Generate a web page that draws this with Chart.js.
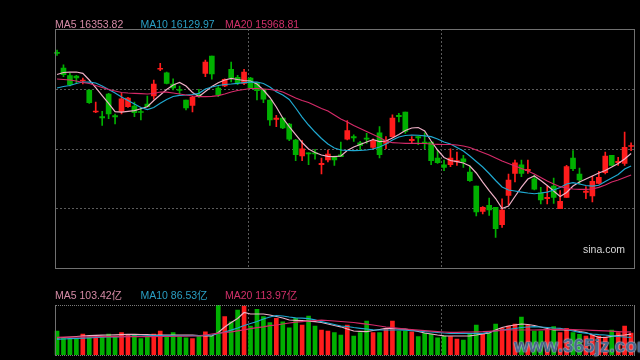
<!DOCTYPE html>
<html><head><meta charset="utf-8">
<script src="https://cdn.jsdelivr.net/npm/chart.js@4/dist/chart.umd.min.js"></script>
<style>
html,body{margin:0;padding:0;background:#000;width:640px;height:360px;overflow:hidden;font-family:"Liberation Sans","Noto Sans CJK SC",Arial,sans-serif;}
#wrap{position:relative;width:640px;height:360px;background:#000;}
canvas{position:absolute;left:0;}
.lg{position:absolute;font-size:10.5px;white-space:nowrap;line-height:12px;}
.box{position:absolute;box-sizing:border-box;pointer-events:none;}
</style></head><body>
<div id="wrap">
<canvas id="price" width="640" height="280" style="top:0;width:640px;height:280px"></canvas>
<canvas id="vol" width="640" height="80" style="top:280px;width:640px;height:80px"></canvas>
<div class="box" style="left:55px;top:29px;width:580px;height:240px;border:1px solid #707070"></div>
<div class="box" style="left:55px;top:305px;width:580px;height:51px;border-left:1px solid #707070;border-right:1px solid #707070;border-top:1px dotted #7a7a7a;border-bottom:1px dotted #7a7a7a"></div>
<div id="legTop"></div>
<div id="legVol"></div>
<div class="lg" style="left:583px;top:243px;color:#d8d8d8;font-size:10.5px">sina.com</div>
<div class="lg" style="left:514px;top:336px;font-size:19px;line-height:20px;font-weight:bold;color:rgba(55,85,125,0.85);text-shadow:0 0 2px #b8cce0,0 0 1px #d0e0f0">www.365jz.com</div>
</div>
<script>
// ---- data ----
const open = [18152,17873,17736,17730,17641,17481,17089,17009,17410,17027,
 17102,17184,17196,17098,17232,17374,17850,17789,17588,17490,
 17303,17209,17405,17778,18086,17517,17552,17850,17707,17600,
 17695,17611,17494,17303,16956,16983,16876,16591,16306,16365,
 16365,16151,16235,16294,16329,16604,16650,16543,16627,16461,
 16721,16532,16650,17031,17089,16579,16650,16555,16555,16271,
 16151,16151,16199,16258,16021,15772,15322,15429,15393,15083,
 15607,15998,16151,16045,15902,15653,15546,15772,15368,15571,
 16271,15986,15657,15594,15820,16009,16319,16187,16176,16475];
const close = [18134,17753,17575,17695,17659,17255,17107,16983,17054,17000,
 17326,17339,17077,17081,17184,17588,17867,17600,17517,17472,
 17161,17351,17387,17979,17766,17397,17672,17695,17611,17801,
 17517,17469,17316,16947,16983,16805,16604,16329,16436,16342,
 16342,16176,16342,16235,16294,16757,16627,16497,16604,16579,
 16329,16579,16983,17006,16746,16604,16627,16532,16223,16187,
 16105,16271,16223,16199,15867,15309,15393,15345,15012,15345,
 15879,16187,15998,16070,15714,15523,15571,15571,15500,16116,
 16080,15879,15683,15856,15927,16306,16141,16212,16461,16493];
const high = [18193,17931,17778,17743,17695,17481,17267,17102,17422,17054,
 17422,17351,17267,17161,17374,17659,17956,17801,17682,17552,
 17303,17374,17494,18015,18086,17540,17682,17979,17743,17850,
 17707,17611,17494,17303,17031,16995,16888,16604,16579,16365,
 16426,16271,16413,16306,16555,16935,16685,16568,16710,16614,
 16828,16650,17041,17066,17089,16650,16662,16721,16555,16413,
 16235,16436,16377,16319,16128,15772,15404,15559,15393,15546,
 15986,16235,16235,16235,15963,15749,15772,15915,15689,16141,
 16401,16093,15760,15950,16034,16377,16319,16283,16733,16543];
const low = [18095,17718,17552,17600,17588,17244,17077,16853,16970,16876,
 17054,17173,17006,16947,17184,17316,17825,17588,17481,17410,
 17125,17089,17351,17718,17672,17362,17540,17623,17575,17575,
 17504,17303,17255,16853,16828,16792,16579,16223,16223,16151,
 16248,15986,16199,16141,16294,16591,16568,16413,16532,16436,
 16271,16436,16639,16911,16710,16532,16507,16436,16151,16176,
 16045,16116,16141,16105,15856,15238,15274,15251,14859,15037,
 15439,15843,15938,15998,15701,15452,15452,15464,15368,15571,
 16045,15808,15546,15487,15808,15986,16141,16141,16141,16401];
const ma5 = [17757,17793,17801,17801,17778,17659,17522,17380,17244,17095,
 17089,17102,17113,17148,17184,17294,17392,17490,17570,17615,
 17552,17437,17365,17454,17543,17611,17659,17689,17668,17650,
 17641,17588,17481,17348,17178,16983,16831,16689,16547,16431,
 16369,16324,16301,16294,16306,16404,16466,16511,16555,16600,
 16564,16573,16627,16689,16760,16805,16814,16751,16573,16413,
 16280,16226,16205,16182,16128,16004,15843,15692,15550,15372,
 15416,15585,15754,15897,15950,15870,15781,15683,15585,15657,
 15772,15843,15897,15950,16004,16048,16110,16173,16253,16351];
const ma10 = [17517,17543,17561,17597,17623,17623,17606,17552,17490,17428,
 17356,17294,17232,17170,17134,17170,17244,17312,17365,17387,
 17392,17401,17422,17499,17534,17561,17579,17588,17600,17611,
 17623,17623,17597,17534,17451,17392,17312,17161,17000,16858,
 16733,16618,16520,16449,16413,16404,16401,16404,16413,16431,
 16466,16520,16591,16644,16671,16680,16676,16666,16650,16609,
 16555,16520,16458,16395,16306,16208,16110,15995,15870,15754,
 15701,15683,15665,15648,15635,15648,15665,15701,15746,15808,
 15831,15808,15781,15772,15786,15852,15915,15977,16075,16130];
const ma20 = [17677,17668,17659,17641,17615,17597,17561,17526,17490,17463,
 17437,17428,17422,17415,17410,17419,17445,17445,17428,17410,
 17392,17374,17365,17365,17369,17380,17410,17445,17472,17490,
 17508,17508,17499,17490,17476,17445,17392,17339,17294,17259,
 17205,17152,17107,17036,16965,16911,16849,16796,16742,16689,
 16636,16573,16543,16538,16532,16532,16532,16529,16520,16515,
 16511,16511,16502,16484,16458,16413,16369,16324,16271,16217,
 16173,16128,16084,16039,15986,15924,15861,15808,15760,15737,
 15719,15714,15714,15719,15749,15790,15843,15879,15924,15969];
const volume = [118.8,87.6,82.7,82.7,104.0,90.6,87.6,90.6,104.0,90.6,
 110.4,99.0,97.5,80.7,87.6,104.0,118.8,94.1,110.4,90.6,
 85.6,80.7,94.1,115.3,94.1,247.5,189.6,164.8,222.8,242.6,
 143.6,226.2,189.6,159.9,181.7,164.8,135.1,181.7,148.5,193.1,
 143.6,123.8,118.8,110.4,99.0,148.5,94.1,110.4,168.3,110.4,
 110.4,132.2,168.3,118.8,118.8,115.3,90.6,107.4,104.0,85.6,
 94.1,90.6,79.2,74.3,104.0,148.5,107.4,107.4,153.5,132.2,
 143.6,153.5,188.1,148.5,118.8,118.8,123.8,140.1,110.4,132.2,
 110.4,102.5,94.1,99.0,94.1,89.1,123.8,110.4,143.6,108.9];
const volMa5 = [84.2,86.6,89.1,91.6,94.1,95.5,97.5,98.0,99.0,100.0,
 101.0,102.0,102.5,101.5,100.5,99.0,99.0,99.0,99.0,99.0,
 99.0,98.0,96.5,95.0,94.1,111.4,138.6,160.9,180.7,210.4,
 203.0,203.0,203.0,198.0,190.6,183.2,173.3,171.8,169.8,167.3,
 165.3,160.9,153.5,146.0,139.6,128.7,118.8,116.8,115.3,121.3,
 126.2,131.7,131.2,128.7,127.7,123.8,116.3,108.9,104.0,99.0,
 95.0,94.1,94.1,94.1,95.0,99.0,104.0,108.9,123.8,136.1,
 143.6,148.5,153.5,151.0,146.0,138.6,131.2,123.8,123.8,123.8,
 123.8,116.3,111.4,99.0,86.6,86.6,92.6,96.5,99.0,103.4];
const volMa10 = [77.7,79.2,80.7,82.2,83.7,85.1,86.6,88.1,89.1,90.1,
 91.1,92.1,93.1,94.1,95.0,95.5,95.5,95.5,95.5,95.5,
 95.5,95.5,96.0,97.5,99.0,106.4,113.9,122.8,133.7,146.0,
 155.9,165.8,178.2,188.1,195.5,193.1,188.1,184.1,182.2,179.7,
 174.2,164.8,158.4,151.0,143.6,141.1,136.1,132.2,128.7,124.7,
 123.8,123.8,123.8,123.8,122.8,120.8,118.8,115.8,113.9,111.4,
 108.9,107.4,107.4,107.4,107.4,107.4,107.4,113.9,118.8,123.8,
 127.2,131.2,136.1,138.6,140.1,138.6,136.1,133.7,132.2,126.2,
 118.8,112.4,107.9,104.0,101.0,99.0,95.0,91.6,89.1,86.5];
const volMa20 = [87.6,88.1,88.6,89.1,89.6,90.1,90.6,90.6,90.6,90.6,
 90.6,90.6,90.6,90.6,90.6,91.1,91.6,92.1,92.6,93.1,
 93.6,94.1,94.1,99.0,104.0,107.9,111.4,114.8,119.8,124.7,
 130.2,135.1,139.6,145.0,148.5,153.5,158.4,162.4,165.3,168.3,
 170.8,172.3,170.8,168.3,165.8,163.4,160.9,156.9,152.5,148.5,
 143.6,138.6,135.6,132.2,128.7,125.7,122.8,120.3,117.8,115.8,
 113.9,112.4,112.4,112.9,113.9,114.3,115.3,117.3,119.8,122.3,
 123.8,123.8,123.8,123.8,123.8,124.7,125.7,126.7,127.2,126.7,
 125.7,124.7,123.8,122.3,120.8,119.3,117.8,115.8,113.9,114.0];
const priceLegend = [["MA5 16353.82","#d58ba6"],["MA10 16129.97","#2a9fc4"],["MA20 15968.81","#d2306a"]];
const volLegend = [["MA5 103.42亿","#d58ba6"],["MA10 86.53亿","#2a9fc4"],["MA20 113.97亿","#d2306a"]];
const priceRange = [14313, 18567];
const volRange = [0, 247.5];
const dividerIdx = [29.65, 59.6];
// ---------------------------------------

const categories = open.map((_, i) => String(i + 1));
const UP = '#ff1c1c', DOWN = '#00b000';
const C5 = '#eeb0c6', C10 = '#1fa8d0', C20 = '#d42a68';
const barColors = open.map((o, i) => close[i] >= o ? UP : DOWN);

function legend(id, items, top) {
  const el = document.getElementById(id);
  const lefts = [55, 140.5, 225];
  items.forEach((it, k) => {
    const d = document.createElement('div');
    d.className = 'lg';
    d.style.left = lefts[k] + 'px';
    d.style.top = top + 'px';
    d.style.color = it[1];
    d.textContent = it[0];
    el.appendChild(d);
  });
}
legend('legTop', priceLegend, 18);
legend('legVol', volLegend, 289);

const gridPlugin = {
  id: 'gridLines',
  beforeDatasetsDraw(chart, args, opts) {
    const {ctx, chartArea, scales} = chart;
    ctx.save();
    ctx.strokeStyle = '#5a5a5a';
    ctx.lineWidth = 1;
    ctx.setLineDash([2, 2]);
    (opts.h || []).forEach(v => {
      const y = Math.round(scales.y.getPixelForValue(v)) + 0.5;
      ctx.beginPath(); ctx.moveTo(56, y); ctx.lineTo(chartArea.right, y); ctx.stroke();
    });
    (opts.v || []).forEach(i => {
      const x = Math.round(scales.x.getPixelForValue(i)) + 0.5;
      ctx.beginPath(); ctx.moveTo(x, chartArea.top); ctx.lineTo(x, chartArea.bottom); ctx.stroke();
    });
    ctx.restore();
  }
};

const step = (priceRange[1] - priceRange[0]) / 4;
const hGrid = [1, 2, 3].map(k => priceRange[0] + step * k);

const common = {
  responsive: false, animation: false, devicePixelRatio: 1,
  plugins: { legend: { display: false }, tooltip: { enabled: false } },
  events: []
};

new Chart(document.getElementById('price'), {
  type: 'bar',
  data: {
    labels: categories,
    datasets: [
      { type: 'line', data: ma20, borderColor: C20, borderWidth: 1.2, pointRadius: 0, tension: 0, order: 0 },
      { type: 'line', data: ma10, borderColor: C10, borderWidth: 1.2, pointRadius: 0, tension: 0, order: 0 },
      { type: 'line', data: ma5, borderColor: C5, borderWidth: 1.2, pointRadius: 0, tension: 0, order: 0 },
      { data: low.map((l, i) => [l, high[i]]), backgroundColor: barColors, barThickness: 1, grouped: false, order: 2 },
      { data: open.map((o, i) => [o, close[i]]), backgroundColor: barColors, barThickness: 5, minBarLength: 1, grouped: false, order: 1 }
    ]
  },
  options: Object.assign({}, common, {
    layout: { padding: { left: 53.8, right: 5.7, top: 29, bottom: 12 } },
    scales: {
      x: { display: false, offset: true },
      y: { display: false, min: priceRange[0], max: priceRange[1] }
    },
    plugins: Object.assign({}, common.plugins, { gridLines: { h: hGrid, v: dividerIdx } })
  }),
  plugins: [gridPlugin]
});

new Chart(document.getElementById('vol'), {
  type: 'bar',
  data: {
    labels: categories,
    datasets: [
      { type: 'line', data: volMa20, borderColor: C20, borderWidth: 1.2, pointRadius: 0, tension: 0, order: 0 },
      { type: 'line', data: volMa10, borderColor: C10, borderWidth: 1.2, pointRadius: 0, tension: 0, order: 0 },
      { type: 'line', data: volMa5, borderColor: C5, borderWidth: 1.2, pointRadius: 0, tension: 0, order: 0 },
      { data: volume, backgroundColor: barColors, barThickness: 4, grouped: false, order: 1 }
    ]
  },
  options: Object.assign({}, common, {
    layout: { padding: { left: 53.8, right: 5.7, top: 25, bottom: 5 } },
    scales: {
      x: { display: false, offset: true },
      y: { display: false, min: volRange[0], max: volRange[1] }
    },
    plugins: Object.assign({}, common.plugins, { gridLines: { h: [], v: dividerIdx } })
  }),
  plugins: [gridPlugin]
});
</script>
</body></html>
